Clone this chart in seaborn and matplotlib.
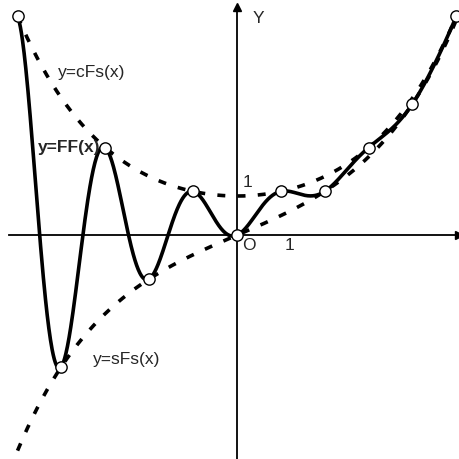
import numpy as np
import pandas as pd
import matplotlib
matplotlib.use("Agg")
import matplotlib.pyplot as plt
import seaborn as sns

# Integer points of the continuous Fibonacci function
marker_x = [-5, -4, -3, -2, -1, 0, 1, 2, 3, 4, 5]
marker_y = [5, -3, 2, -1, 1, 0, 1, 1, 2, 3, 5]

# Tick positions
x_ticks = [-5, -4, -3, -2, -1, 1, 2, 3]
y_ticks = [-5, -4, -3, -2, -1, 1, 2, 3, 4]

labels = ["y=cFs(x)", "y=FF(x)", "y=sFs(x)"]

phi = (1 + np.sqrt(5)) / 2
xs = np.linspace(-5, 5, 801)
ff = (phi**xs - np.cos(np.pi * xs) * phi**(-xs)) / np.sqrt(5)
cfs = (phi**xs + phi**(-xs)) / np.sqrt(5)
sfs = (phi**xs - phi**(-xs)) / np.sqrt(5)

df = pd.DataFrame({"x": xs, "FF": ff, "cFs": cfs, "sFs": sfs})
mk = pd.DataFrame({"x": marker_x, "y": marker_y})

sns.set_style("white")
plt.rcParams["font.family"] = ["Liberation Sans", "DejaVu Sans"]

fig = plt.figure(figsize=(4.59, 4.59), dpi=100)
ax = fig.add_axes([0, 0, 1, 1])

sns.lineplot(data=df, x="x", y="cFs", ax=ax, color="black", lw=2.6,
             linestyle=(0, (2.2, 3.4)), zorder=2)
sns.lineplot(data=df, x="x", y="sFs", ax=ax, color="black", lw=2.6,
             linestyle=(0, (2.2, 3.4)), zorder=2)
sns.lineplot(data=df, x="x", y="FF", ax=ax, color="black", lw=2.6, zorder=3)
sns.scatterplot(data=mk, x="x", y="y", ax=ax, s=66, color="white",
                edgecolor="black", linewidth=1.0, zorder=5, clip_on=False)

ax.set_xlim(-5.40, 5.06)
ax.set_ylim(-5.11, 5.37)

for s in ["top", "right"]:
    ax.spines[s].set_visible(False)
ax.spines["left"].set_position(("data", 0))
ax.spines["bottom"].set_position(("data", 0))
ax.spines["left"].set_bounds(-5.11, 5.15)
ax.spines["bottom"].set_bounds(-5.2, 5.06)
for s in ["left", "bottom"]:
    ax.spines[s].set_linewidth(1.3)
    ax.spines[s].set_color("black")
    ax.spines[s].set_zorder(1)

ax.set_xticks(x_ticks)
ax.set_yticks(y_ticks)
ax.set_xticklabels([])
ax.set_yticklabels([])
ax.tick_params(axis="both", direction="inout", length=17, width=1.0, color="black")
ax.set_xlabel("")
ax.set_ylabel("")

# arrow heads
ax.plot(0, 5.2, marker="^", color="black", markersize=6, clip_on=False, zorder=4)
ax.plot(5.06, 0, marker=">", color="black", markersize=6, clip_on=False, zorder=4)

fs = 12.5
ax.text(0.36, 4.95, "Y", fontsize=12.5, ha="left", va="center")
ax.text(0.11, -0.24, "O", fontsize=12.5, ha="left", va="center")
ax.text(1.09, -0.24, "1", fontsize=12.5, ha="left", va="center")
ax.text(0.12, 1.2, "1", fontsize=12.5, ha="left", va="center")
ax.text(-4.08, 3.72, labels[0], fontsize=fs, ha="left", va="center")
ax.text(-4.53, 2.0, labels[1], fontsize=fs, ha="left", va="center", fontweight="bold")
ax.text(-3.28, -2.83, labels[2], fontsize=fs, ha="left", va="center")

fig.savefig("out.png", dpi=100)
